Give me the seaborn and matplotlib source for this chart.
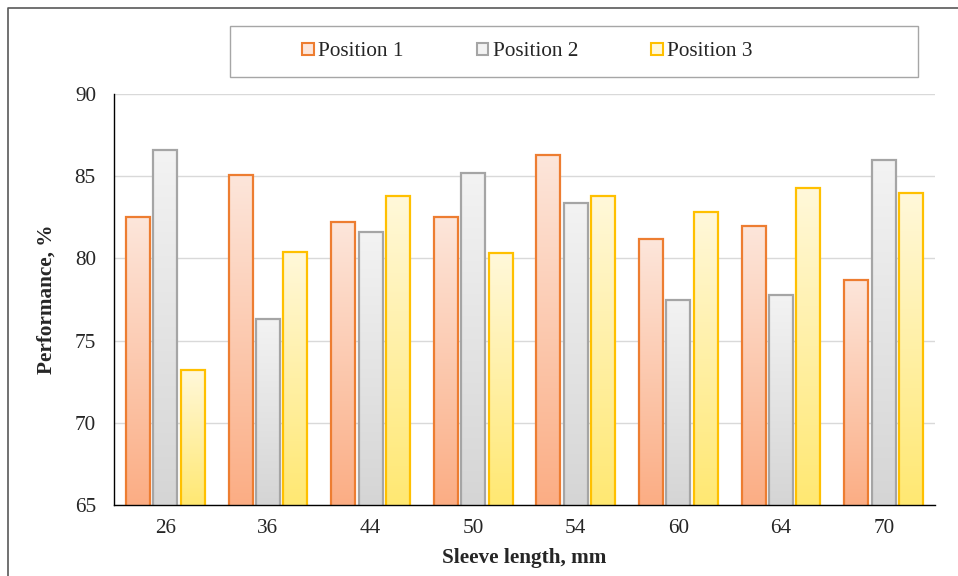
import numpy as np
import pandas as pd
import matplotlib.pyplot as plt
import seaborn as sns
from matplotlib.colors import LinearSegmentedColormap
from matplotlib.patches import Rectangle, Patch
from matplotlib.lines import Line2D

# data
lengths = ['26', '36', '44', '50', '54', '60', '64', '70']
pos1 = [82.5, 85.1, 82.2, 82.5, 86.3, 81.2, 82.0, 78.7]
pos2 = [86.6, 76.3, 81.6, 85.2, 83.4, 77.5, 77.8, 86.0]
pos3 = [73.2, 80.4, 83.8, 80.3, 83.8, 82.8, 84.3, 84.0]
series = ['Position 1', 'Position 2', 'Position 3']

edge_colors = ['#ED7D31', '#A5A5A5', '#FFC000']
top_colors = ['#FDE6DB', '#F3F3F3', '#FFF8DA']
bottom_colors = ['#FBAD84', '#D5D5D5', '#FFE872']

df = pd.DataFrame({
    'length': lengths * 3,
    'value': pos1 + pos2 + pos3,
    'series': np.repeat(series, len(lengths)),
})

sns.set_style('white')
plt.rcParams['font.family'] = ['Liberation Serif', 'DejaVu Serif']
fs = 15.3

W, H = 958, 576
fig = plt.figure(figsize=(W / 100, H / 100), dpi=100)
ax = fig.add_axes([114 / W, 1 - 505 / H, (935 - 114) / W, (505 - 94) / H])

sns.barplot(data=df, x='length', y='value', hue='series', palette=edge_colors,
            width=0.8, gap=0.12, ax=ax, legend=False)

ymin, ymax = 65, 90
# gradient fill for each bar
for i, cont in enumerate(ax.containers):
    cmap = LinearSegmentedColormap.from_list('g%d' % i, [bottom_colors[i], top_colors[i]])
    grad = np.linspace(0, 1, 256).reshape(-1, 1)
    for bar in cont:
        x, w, h = bar.get_x(), bar.get_width(), bar.get_height()
        bar.set_facecolor('none')
        bar.set_edgecolor(edge_colors[i])
        bar.set_linewidth(1.6)
        bar.set_zorder(3)
        ax.imshow(grad, cmap=cmap, origin='lower', aspect='auto',
                  extent=(x, x + w, ymin, h), zorder=2.5)

ax.set_xlim(-0.5, len(lengths) - 0.5)
ax.set_ylim(ymin, ymax)
ax.set_yticks(range(65, 91, 5))
ax.set_xticks(range(len(lengths)))
ax.set_xticklabels(lengths)
ax.set_xticks(np.arange(-0.5, len(lengths), 1), minor=True)
ax.tick_params(axis='x', which='major', length=0, pad=10, labelsize=fs)
ax.tick_params(axis='x', which='minor', length=5, direction='out', width=1, color='black')
ax.tick_params(axis='y', length=5, direction='out', width=1, color='black', pad=8, labelsize=fs)

ax.set_axisbelow(True)
ax.yaxis.grid(True, color='#D9D9D9', linewidth=1)
ax.xaxis.grid(False)
for s in ['top', 'right']:
    ax.spines[s].set_visible(False)
for s in ['left', 'bottom']:
    ax.spines[s].set_color('black')
    ax.spines[s].set_linewidth(1)
    ax.spines[s].set_zorder(4)

ax.set_xlabel('Sleeve length, mm', fontsize=fs, fontweight='bold', labelpad=7)
ax.set_ylabel('Performance, %', fontsize=fs, fontweight='bold', labelpad=13)

# legend
handles = [Patch(facecolor=top_colors[i], edgecolor=edge_colors[i], linewidth=1.5)
           for i in range(3)]
fig.legend(handles, series, loc='center left', bbox_to_anchor=(302 / W, 1 - 52 / H),
           ncol=3, frameon=False, fontsize=fs, handlelength=0.55, handleheight=0.55,
           handletextpad=0.2, columnspacing=3.45, borderpad=0, borderaxespad=0)
fig.patches.append(Rectangle((230 / W, 1 - 77 / H), (918 - 230) / W, (77 - 26) / H,
                             transform=fig.transFigure, fill=False,
                             edgecolor='#A6A6A6', linewidth=1))

# outer chart border
fig.lines.append(Line2D([8 / W, 8 / W, 1], [0, 1 - 8 / H, 1 - 8 / H],
                        transform=fig.transFigure, color='#595959', linewidth=1.2))

fig.savefig('out.png', dpi=100)
